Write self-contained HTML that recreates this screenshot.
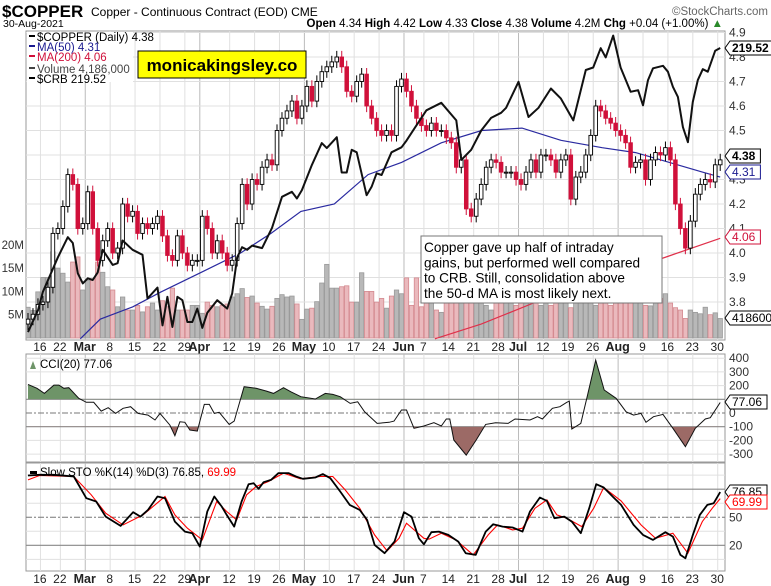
<!DOCTYPE html>
<html><head><meta charset="utf-8"><style>
body{margin:0;background:#fff;width:771px;height:586px;overflow:hidden;font-family:"Liberation Sans",sans-serif}
svg{display:block}
text{font-family:"Liberation Sans",sans-serif}
</style></head><body>
<svg id="chart" width="771" height="586" viewBox="0 0 771 586" xmlns="http://www.w3.org/2000/svg">
<text x="2" y="17" font-size="17" font-weight="bold">$COPPER</text>
<text x="91" y="16" font-size="12">Copper - Continuous Contract (EOD) CME</text>
<text x="768" y="15" font-size="11.5" fill="#666" text-anchor="end">©StockCharts.com</text>
<text x="3" y="27" font-size="10.5">30-Aug-2021</text>
<text x="723" y="27" font-size="11.5" text-anchor="end"><tspan font-weight="bold">Open</tspan> 4.34 <tspan font-weight="bold">High</tspan> 4.42 <tspan font-weight="bold">Low</tspan> 4.33 <tspan font-weight="bold">Close</tspan> 4.38 <tspan font-weight="bold">Volume</tspan> 4.2M <tspan font-weight="bold">Chg</tspan> +0.04 (+1.00%) <tspan fill="#2a8a2a">▲</tspan></text>
</svg>
<script>
// ---------- DATA ----------
const closes=[3.73,3.75,3.79,3.80,3.86,4.08,4.10,4.19,4.32,4.28,4.10,4.12,4.25,4.10,3.97,4.05,4.10,4.00,4.02,4.20,4.15,4.17,4.08,4.12,4.10,4.12,4.15,4.07,3.99,3.97,4.07,4.00,3.95,3.97,3.97,4.15,4.10,4.00,4.05,4.00,3.95,3.97,4.12,4.28,4.20,4.30,4.28,4.35,4.38,4.36,4.50,4.55,4.58,4.62,4.55,4.60,4.68,4.62,4.70,4.74,4.76,4.78,4.80,4.76,4.66,4.64,4.70,4.73,4.60,4.55,4.50,4.48,4.50,4.48,4.68,4.71,4.66,4.60,4.55,4.52,4.50,4.53,4.50,4.50,4.47,4.45,4.35,4.38,4.18,4.15,4.22,4.28,4.35,4.38,4.37,4.33,4.33,4.33,4.30,4.28,4.33,4.38,4.33,4.40,4.40,4.38,4.33,4.38,4.40,4.22,4.31,4.33,4.40,4.48,4.60,4.58,4.55,4.53,4.50,4.48,4.45,4.35,4.37,4.38,4.30,4.38,4.41,4.40,4.43,4.38,4.20,4.10,4.02,4.13,4.24,4.28,4.30,4.29,4.36,4.38];
const volumes=[6.6,5.9,9.9,13,13,18.5,15,13.9,12,16.3,17.4,10.3,12.4,12.7,16.3,14.1,11,10.3,6.7,8.8,6,6,7,5.6,6.7,7.5,6,8,6.7,10.7,6,6,6,7,7,5.3,7.7,7,6.7,7,7.3,8.8,9.5,10.6,8.7,9,7.5,6.8,6.2,6.8,8.5,9.3,8.8,9,7.3,4,6.2,6.4,7.8,11.8,15.8,10.7,10.7,11,11.2,7.7,7.7,14,10,10,7.7,8.5,6.4,9,10.3,9.5,12.9,7,12.9,6.7,9,8,6,5.5,8,8.5,15,16,12,13,9,8,7,6,7.5,9,7.8,8,7,7.5,8,9,8,7,10,7,9,8,7.5,6.5,12,14,9,8,7,10,8,7,8,9,8,7.5,9,8,7,6.9,8,8.5,9.5,7.5,6.5,6,4.2,6,5.5,5.2,6.6,5,5.4,4.19];
const ma50Idx=[10.5,14.5,21,26.6,34.7,42.7,48.8,54.8,61.5,68.3,75,83,91.1,99.2,107,115.3,122,128.8,135.5,139];
const ma50Val=[3.65,3.73,3.78,3.84,3.92,4.0,4.08,4.17,4.2,4.32,4.37,4.45,4.5,4.51,4.46,4.43,4.41,4.37,4.33,4.31];
const ma200Idx=[81.7,91,102,129,139];
const ma200Val=[3.65,3.71,3.8,3.99,4.06];
const crbIdx=[0,2,3,6,8,9,10,11,12,13,14,15,17,18,19,21,23,24,26,27,28,29,30,31,32,33,34,35,36,38,40,41,42,43,44,45,47,49,51,53,54,55,57,59,60,62,63,64,65,66,68,69,70,71,73,75,76,78,80,83,86,87,89,91,93,95,96,98.5,100.5,102.5,105,107,109.5,112,113.5,115,116,117.5,119,121,122.5,123.5,124.5,125.5,127.5,128.5,129.5,130.5,131.5,132.5,133.5,134.5,135.5,136.5,138,139];
const crbVal=[185.7,188.3,190.5,194.6,197.0,196.3,192.7,191.5,192.1,191.9,192.8,195.5,193.7,193.9,196.6,195.5,194.9,189.7,191.0,186.5,189.9,186.3,189.9,189.5,186.9,186.9,188.5,186.2,188.0,189.5,188.5,190.3,194.6,195.8,195.5,196.0,195.7,198.1,201.8,202.4,201.6,202.6,205.6,208.2,207.6,208.9,204.7,204.7,207.4,207.1,202.0,203.0,204.6,204.4,207.1,207.7,208.5,210.3,212.1,213.0,210.9,206.2,207.4,209.7,211.2,211.8,212.4,215.5,211.3,212.4,214.7,213.5,210.9,216.9,217.2,219.5,218.4,221.0,217.2,214.3,214.5,212.7,215.7,217.1,217.4,216.7,214.9,213.7,210.1,208.3,213.1,215.7,217.0,216.7,219.2,219.52];
const cciIdx=[0,1.8,3.3,5.2,6.2,7.2,8.2,10.2,11.7,13.2,14.7,16.1,17.6,19.1,20.6,22.1,24.1,25.5,26.5,28.5,29.5,30.5,31.5,32.5,34,35.4,36.4,37.4,38.4,40.4,41.4,43.4,45.8,47.9,49.3,51.3,52.8,54.8,57.7,59.7,61.2,62.7,64.7,66.2,67.6,70.1,72.5,73.5,75,76,77.5,79.5,81.5,83,84,84.7,85.5,88,90,91.9,93.9,96.4,97.8,100.8,102.3,103.3,105.3,106.8,108.2,108.7,109.2,111,112.2,114,115.7,118.1,120.1,121.6,123.1,124.1,125.6,127.5,129.5,132,134,136,137,139];
const cciVal=[209,180,143,204,204,180,185,107,78,78,14,39,-3,34,46,-3,-15,-51,-3,-88,-166,-64,-68,-124,-132,63,63,-3,5,-83,-59,192,180,160,143,185,155,119,102,143,136,119,70,82,9,-76,-68,-59,22,22,-112,-95,-71,-95,-44,-44,-197,-307,-197,-83,-71,-76,-44,-51,-27,-44,34,46,78,87,-117,-76,107,386,168,107,9,-15,-3,-68,-27,-10,-112,-246,-112,-44,-34,77];
const stoKIdx=[0,2.3,5.2,9.2,11.7,13.7,15.6,18.6,21.1,22.6,24.1,26,27.5,29.5,31.5,33,34.5,36,37.4,38.9,39.9,41.4,42.9,44.3,45.3,46.3,47.3,48.8,50.3,52.3,53.8,55.2,57.7,59.2,60.7,62.7,64.6,66.6,68.1,69.6,71.6,73.6,75.5,77,78.5,79.5,81,82.5,84.4,86.4,87.9,89.9,91.9,93.4,95.3,97.3,99.3,100.8,102.8,104.2,105.7,107.7,109.2,111,112.7,114.1,115.6,117.6,119.1,121.6,123.5,125.5,128,129.5,131,132,133.4,134.9,136.4,137.7,139];
const stoKVal=[94.7,95.4,95.4,93.6,70.4,66.8,50.7,40.7,55.4,50.7,57.9,72.2,70.4,45.4,34.7,32.9,18.6,56.1,72.2,61.5,52.5,40,66.8,85.4,86.4,80.4,87.5,90,97.2,97.2,93.6,91.1,92.5,96.1,91.8,77.5,63.2,57.9,47.2,20.4,11.5,24,55.4,50.7,27.5,21.1,34,34.7,31.1,24,11.5,9.7,34.7,42.5,40,39,34.7,56.1,71.1,67.5,49,50.7,45.4,32.9,59.7,85.4,81.8,71.1,63.2,41.8,31.1,25.8,34,29.3,9.7,6.1,29.3,52.5,63.2,65,76.85];
const stoDIdx=[0,2.3,9.2,12.7,15.6,19.1,23.1,27.5,29.5,32,35,37.9,39.9,41.9,43.9,45.8,48.3,51.3,54.7,58.7,61.2,63.7,66.6,69.6,72.1,74.5,76,79.5,80.5,83,85.9,89.4,92.4,94.3,97.3,99.3,101.8,104.2,106.2,108.2,111.2,113.6,115.6,119.1,123.1,126,129.5,132.5,135.4,137.4,139];
const stoDVal=[90,94.7,93.6,74,54.3,41.8,52.5,72.2,52.5,38.3,25.8,66.8,56.1,47.2,74,82.9,88.2,97.2,91.1,93.6,93.6,79.3,59.7,31.1,14,27.5,43.6,27.5,26.5,32.9,25.8,9.7,31.1,41.8,36.5,38.3,59.7,68.6,52.5,49,40,59.7,81.8,67.5,41.8,27.5,32.9,11.5,45.4,59.7,69.99];
const dateLabels=["16","22","Mar","8","15","22","29","Apr","12","19","26","May","10","17","24","Jun","7","14","21","28","Jul","12","19","26","Aug","9","16","23","30"];
const dateIdx=[3,7,12,17,22,27,32,35,41,46,51,56,61,66,71,76,80,85,90,95,99,104,109,114,119,124,129,134,139];
const monthLabels=["Mar","Apr","May","Jun","Jul","Aug"];
const priceTicks=[3.8,3.9,4.0,4.1,4.2,4.3,4.4,4.5,4.6,4.7,4.8,4.9];
const volTicks=[5,10,15,20];
const cciTicks=[400,300,200,100,0,-100,-200,-300];
const stoTicks=[80,50,20];

// ---------- AXES ----------
const L=26,R=725;
const MT=31,MB=340,CT=354,CB=462,ST=463,SB=571;
const xi=i=>28+i*4.98;
const py=p=>32.5+(4.9-p)*245;
const vy=v=>338-v*4.66;
const cy=v=>48+(219.52-v)*8.4;
const ccy=v=>413-v*0.137;
const sy=v=>564-v*0.935;

const svg=document.getElementById('chart');
const NS='http://www.w3.org/2000/svg';
function mk(tag,attrs,parent){const e=document.createElementNS(NS,tag);for(const k in attrs)e.setAttribute(k,attrs[k]);(parent||svg).appendChild(e);return e;}
function txt(x,y,s,attrs,parent){const t=mk('text',Object.assign({x:x,y:y,'font-size':11},attrs||{}),parent);t.textContent=s;return t;}

function panel(top,bot,name){
  const g=mk('g',{});
  
  
  const r=mk('rect',{x:L,y:top,width:R-L,height:bot-top,fill:'#fff',stroke:'#999','stroke-width':1},g);
  
  
  dateIdx.forEach((d,k)=>{
    const isM=monthLabels.includes(dateLabels[k]);
    const ln=mk('line',{x1:xi(d)-2.5,x2:xi(d)-2.5,y1:top,y2:bot,stroke:isM?'#bbb':'#e0e0e0','stroke-width':1},g);
    
    
  });
  return g;
}
const mainG=panel(MT,MB,'price-panel');
const cciG=panel(CT,CB,'cci-panel');
const stoG=panel(ST,SB,'sto-panel');

priceTicks.forEach(p=>{
  const ln=mk('line',{x1:L,x2:R,y1:py(p),y2:py(p),stroke:'#e0e0e0'},mainG);
  
  
  const t=txt(729,py(p)+4,p.toFixed(1),{'font-size':12,fill:'#333'});
  
  
});
volTicks.forEach(v=>{
  const t=txt(24,vy(v)+4,v+'M',{'font-size':11.5,'text-anchor':'end',fill:'#333'});
  
  
});

const defs=mk('defs',{});
const cp=mk('clipPath',{id:'mainclip'},defs);
mk('rect',{x:L,y:MT,width:R-L,height:MB-MT},cp);
const cpa=mk('clipPath',{id:'cciUp'},defs);
mk('rect',{x:L,y:CT,width:R-L,height:ccy(100)-CT},cpa);
const cpb=mk('clipPath',{id:'cciDn'},defs);
mk('rect',{x:L,y:ccy(-100),width:R-L,height:CB-ccy(-100)},cpb);

const plot=mk('g',{'clip-path':'url(#mainclip)'},mainG);

volumes.forEach((v,i)=>{
  const down=i>0&&closes[i]<closes[i-1];
  const b=mk('rect',{x:xi(i)-2.2,y:vy(v),width:4.4,height:338-vy(v),fill:down?'#eab9bd':'#b8b8b8',stroke:down?'#d48a90':'#9a9a9a','stroke-width':0.8},plot);
  
  
});

function poly(idx,val,xf,yf,attrs,parent){
  const pts=idx.map((d,k)=>xf(d).toFixed(1)+','+yf(val[k]).toFixed(1)).join(' ');
  return mk('polyline',Object.assign({points:pts,fill:'none'},attrs),parent);
}
const ma200=poly(ma200Idx,ma200Val,xi,py,{stroke:'#e0304a','stroke-width':1.2},plot);


const ma50=poly(ma50Idx,ma50Val,xi,py,{stroke:'#2a2aa0','stroke-width':1.2},plot);



closes.forEach((c,i)=>{
  const o=i>0?closes[i-1]:c-0.02;
  const hi=Math.max(o,c)+0.025, lo=Math.min(o,c)-0.025;
  const down=c<o;
  const col=down?'#d0103a':'#000';
  const g=mk('g',{},plot);
  
  
  mk('line',{x1:xi(i),x2:xi(i),y1:py(hi),y2:py(lo),stroke:col,'stroke-width':1},g);
  const top=py(Math.max(o,c)),h=Math.max(1,Math.abs(py(o)-py(c)));
  mk('rect',{x:xi(i)-1.8,y:top,width:3.6,height:h,fill:down?col:'#fff',stroke:col,'stroke-width':0.9},g);
});

const crb=poly(crbIdx,crbVal,xi,cy,{stroke:'#111','stroke-width':2,'stroke-linejoin':'round'},plot);



const lg=mk('g',{});


mk('rect',{x:27,y:32,width:106,height:50,fill:'#fff'},lg);
const legItems=[["$COPPER (Daily) 4.38","#000"],["MA(50) 4.31","#1a1a90"],["MA(200) 4.06","#d0103a"],["Volume 4,186,000","#444"],["$CRB 219.52","#000"]];
const legY=[40,50,60,72,82];
legItems.forEach((it,k)=>{
  mk('rect',{x:29,y:legY[k]-5,width:6,height:2,fill:it[1]},lg);
  const t=txt(37,legY[k]+1,it[0],{'font-size':11.5,fill:it[1]},lg);
  
  
});

const wm=mk('g',{});


mk('rect',{x:138,y:51,width:168,height:27,fill:'#ffff00',stroke:'#000','stroke-width':1},wm);
txt(222,71,'monicakingsley.co',{'font-size':17,'font-weight':'bold','text-anchor':'middle'},wm);

const an=mk('g',{});


mk('rect',{x:421,y:236,width:241,height:67,fill:'#fff',stroke:'#777','stroke-width':1},an);
["Copper gave up half of intraday","gains, but performed well compared","to CRB. Still, consolidation above","the 50-d MA is most likely next."].forEach((s,k)=>{
  txt(424,252+k*15.3,s,{'font-size':13.6},an);
});

function tag(y,s,col,bold,name){
  const g=mk('g',{});
  
  
  const w=s.length*6.6+4;
  mk('polygon',{points:`725,${y} 730,${y-7} ${730+w},${y-7} ${730+w},${y+7} 730,${y+7}`,fill:'#fff',stroke:col,'stroke-width':1},g);
  txt(732,y+4,s,{'font-size':12,'font-weight':bold?'bold':'normal',fill:col},g);
}
tag(48,'219.52','#000',true,'crb-value-tag');
tag(156,'4.38','#000',true,'close-value-tag');
tag(172,'4.31','#1a1a90',false,'ma50-value-tag');
tag(237,'4.06','#d0103a',false,'ma200-value-tag');
tag(318,'4186000','#000',false,'volume-value-tag');

function dateAxis(y,name){
  const g=mk('g',{});
  
  
  dateLabels.forEach((s,k)=>{
    const isM=monthLabels.includes(s);
    txt(xi(dateIdx[k])-3,y,s,{'font-size':isM?12.5:12,'font-weight':isM?'bold':'normal','text-anchor':'middle',fill:'#222'},g);
  });
}
dateAxis(351,'price-date-axis');
dateAxis(583,'bottom-date-axis');

cciTicks.forEach(v=>{
  const hl=(v===100||v===-100);
  const ln=mk('line',{x1:L,x2:R,y1:ccy(v),y2:ccy(v),stroke:hl?'#888':(v===0?'#777':'#e0e0e0'),'stroke-width':hl?1.2:1,'stroke-dasharray':v===0?'6,2,2,2':'none'},cciG);
  
  
  const t=txt(729,ccy(v)+4,String(v),{'font-size':12,fill:'#333'});
  
  
});
const cciPts=cciIdx.map((d,k)=>xi(d).toFixed(1)+','+ccy(cciVal[k]).toFixed(1));
const fa=mk('polygon',{points:xi(cciIdx[0])+','+ccy(100)+' '+cciPts.join(' ')+' '+xi(cciIdx[cciIdx.length-1])+','+ccy(100),fill:'#6e9468',stroke:'none','clip-path':'url(#cciUp)'},cciG);


const fb=mk('polygon',{points:xi(cciIdx[0])+','+ccy(-100)+' '+cciPts.join(' ')+' '+xi(cciIdx[cciIdx.length-1])+','+ccy(-100),fill:'#9c6a66',stroke:'none','clip-path':'url(#cciDn)'},cciG);


const cl=poly(cciIdx,cciVal,xi,ccy,{stroke:'#111','stroke-width':1},cciG);


const cciLeg=txt(40,368,'CCI(20) 77.06',{'font-size':11.5});


mk('polygon',{points:'30,369 33,361 36,369',fill:'#6e9468'});
tag(402,'77.06','#000',false,'cci-value-tag');

[95,65,35,5].forEach(v=>{
  const ln=mk('line',{x1:L,x2:R,y1:sy(v),y2:sy(v),stroke:'#e0e0e0'},stoG);
  
  
});
stoTicks.forEach(v=>{
  const ln=mk('line',{x1:L,x2:R,y1:sy(v),y2:sy(v),stroke:v===50?'#777':'#888','stroke-width':v===50?1:1.2,'stroke-dasharray':v===50?'6,2,2,2':'none'},stoG);
  
  
  if(v!==80){
    const t=txt(729,sy(v)+4,String(v),{'font-size':12,fill:'#333'});
    
    
  }
});
const dl=poly(stoDIdx,stoDVal,xi,sy,{stroke:'#f00','stroke-width':1.1},stoG);


const kl=poly(stoKIdx,stoKVal,xi,sy,{stroke:'#000','stroke-width':1.8,'stroke-linejoin':'round'},stoG);


mk('rect',{x:30,y:471,width:7,height:3,fill:'#000'});
const stoLeg=txt(40,476,'',{'font-size':11.5});


stoLeg.innerHTML='<tspan>Slow STO %K(14) %D(3) 76.85, </tspan><tspan fill="#f00">69.99</tspan>';
tag(492,'76.85','#000',false,'sto-k-value-tag');
tag(502,'69.99','#f00',false,'sto-d-value-tag');
</script>
</body></html>
